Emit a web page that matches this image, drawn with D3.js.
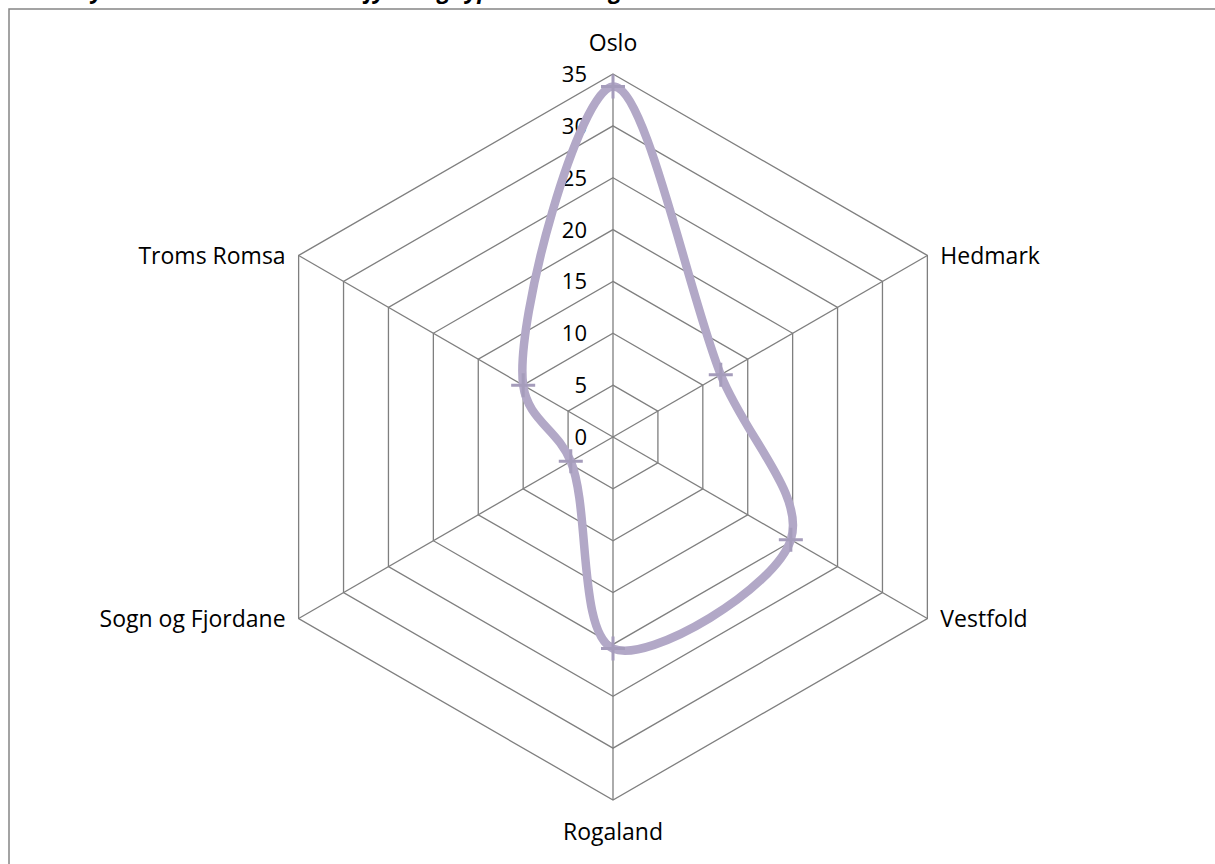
<!DOCTYPE html>
<html>
<head>
<meta charset="utf-8">
<script src="https://cdn.jsdelivr.net/npm/d3@7"></script>
<style>
  html, body { margin: 0; padding: 0; background: #fff; overflow: hidden; }
  svg { display: block; font-family: "Open Sans", Lato, sans-serif; }
</style>
</head>
<body>
<div id="chart"></div>
<script>
// Dades del gràfic
const categories = ["Oslo", "Hedmark", "Vestfold", "Rogaland", "Sogn og Fjordane", "Troms Romsa"];
const values = [33.8, 12, 19.8, 20.4, 4.7, 10];
const tickValues = [0, 5, 10, 15, 20, 25, 30, 35];
const titleText = "Andel nyutdannede lærere etter fylke og type utdanning";

const width = 1215, height = 864;
const cx = 613, cy = 437;

const svg = d3.select("#chart").append("svg")
    .attr("width", width)
    .attr("height", height);

// Títol retallat a la part superior (només se'n veuen les cues)
svg.append("text")
    .attr("x", 10)
    .attr("y", -2)
    .attr("font-size", 23)
    .attr("font-style", "italic")
    .attr("font-weight", "bold")
    .attr("fill", "#000")
    .text(titleText);

// Marc del gràfic
svg.append("rect")
    .attr("x", 9)
    .attr("y", 9)
    .attr("width", width + 20)
    .attr("height", height + 20)
    .attr("fill", "none")
    .attr("stroke", "#858585")
    .attr("stroke-width", 1.5);

const r = d3.scaleLinear().domain([0, 35]).range([0, 363]);
const angle = d3.scalePoint().domain(categories).range([0, 2 * Math.PI * (categories.length - 1) / categories.length]);

const g = svg.append("g").attr("transform", `translate(${cx},${cy})`);

const pt = (cat, v) => {
    const a = angle(cat) - Math.PI / 2;
    return [r(v) * Math.cos(a), r(v) * Math.sin(a)];
};

// Anells de la graella
g.selectAll(".ring")
    .data(tickValues.filter(t => t > 0))
    .join("polygon")
    .attr("class", "ring")
    .attr("points", t => categories.map(c => pt(c, t).join(",")).join(" "))
    .attr("fill", "none")
    .attr("stroke", "#7f7f7f")
    .attr("stroke-width", 1.3);

// Radis
g.selectAll(".spoke")
    .data(categories)
    .join("line")
    .attr("class", "spoke")
    .attr("x1", 0).attr("y1", 0)
    .attr("x2", c => pt(c, 35)[0])
    .attr("y2", c => pt(c, 35)[1])
    .attr("stroke", "#7f7f7f")
    .attr("stroke-width", 1.3);

// Etiquetes de l'eix radial
g.selectAll(".tick-label")
    .data(tickValues)
    .join("text")
    .attr("class", "tick-label")
    .attr("x", -26)
    .attr("y", t => -r(t))
    .attr("dy", "0.36em")
    .attr("text-anchor", "end")
    .attr("font-size", 22)
    .attr("fill", "#000")
    .text(t => t);

// Etiquetes de categoria
const labelPos = c => {
    const [x, y] = pt(c, 35);
    if (Math.abs(x) < 1) return { x, y: y < 0 ? y - 31 : y + 32, anchor: "middle" };
    return { x: x + (x > 0 ? 13 : -13), y, anchor: x > 0 ? "start" : "end" };
};

g.selectAll(".cat-label")
    .data(categories)
    .join("text")
    .attr("class", "cat-label")
    .attr("x", c => labelPos(c).x)
    .attr("y", c => labelPos(c).y)
    .attr("dy", "0.36em")
    .attr("text-anchor", c => labelPos(c).anchor)
    .attr("font-size", 23)
    .attr("fill", "#000")
    .text(c => c);

// Línia suavitzada de la sèrie
const line = d3.line().curve(d3.curveCatmullRomClosed.alpha(0.5));
const points = categories.map((c, i) => pt(c, values[i]));

g.append("path")
    .attr("d", line(points))
    .attr("fill", "none")
    .attr("stroke", "#b2a8c7")
    .attr("stroke-width", 8.5)
    .attr("stroke-linejoin", "round");

// Marcadors en forma de creu
const markers = g.selectAll(".marker")
    .data(points)
    .join("g")
    .attr("class", "marker")
    .attr("transform", d => `translate(${d[0]},${d[1]})`);

markers.append("path")
    .attr("d", "M-12,0H12M0,-12V12")
    .attr("stroke", "#a59cbb")
    .attr("stroke-width", 3);
</script>
</body>
</html>
